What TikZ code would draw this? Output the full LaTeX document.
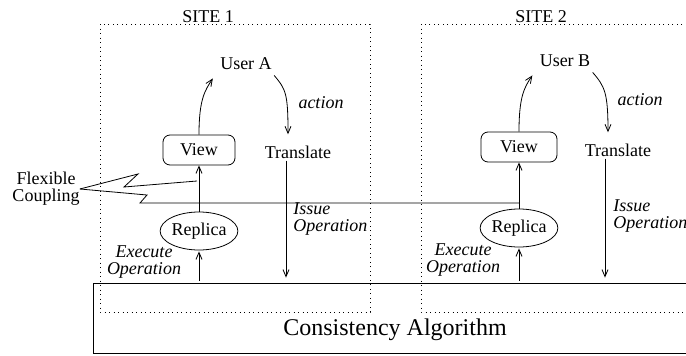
\documentclass[tikz,border=0pt]{standalone}
\usepackage{fontspec}
\setmainfont{Liberation Serif}
\usetikzlibrary{arrows.meta,shapes.geometric}

\begin{document}
\begin{tikzpicture}[x=1pt,y=-1pt,line width=0.8pt,
        >={Straight Barb[length=7pt,width=6pt]},
        every node/.style={font=\fontsize{18}{18}\selectfont,inner sep=2pt},
        lbl/.style={font=\fontsize{18}{17}\selectfont\itshape,inner sep=0pt},
        vista/.style={draw,rounded corners=7pt,minimum width=72pt,minimum height=30pt},
        replica/.style={draw,ellipse,minimum width=64pt,minimum height=38pt,inner sep=0pt},
        sitebox/.style={dash pattern=on 0.9pt off 3.6pt}]
        \useasboundingbox (0,0) rectangle (686,356);
        \clip (0,0) rectangle (686,356);
        % Sitios
        \draw[sitebox] (100,24) rectangle (370,312);
        \draw[sitebox] (421,24) rectangle (700,312);
        \node (siteA) at (208,17) {SITE 1};
        \node (siteB) at (541,17) {SITE 2};
        % Algoritmo
        \node[draw,minimum width=607pt,minimum height=70pt] (cons) at (396.5,318) {};
        \node[font=\fontsize{24}{24}\selectfont,inner sep=0pt] (consText) at (395,330) {Consistency Algorithm};
        % Sitio 1
        \node (userA) at (246,64) {User A};
        \node[vista] (viewA) at (199,150) {View};
        \node (transA) at (298,152) {Translate};
        \node[replica] (replicaA) at (199,231) {Replica};
        \node[lbl] (actionA) at (321,103) {action};
        \node[lbl,align=left,anchor=west] (issueA) at (293,219.5) {Issue\\Operation};
        \node[lbl,align=center] (execA) at (144,262.5) {Execute\\Operation};
        \draw[->] (viewA.north) .. controls +(0,-35) and +(-8,12) .. ([xshift=-5pt,yshift=-6pt]userA.south west);
        \draw[->] ([yshift=-3pt]userA.south east) .. controls +(12,14) and +(0,-40) .. ([xshift=-10pt,yshift=9pt]transA.north);
        \draw[->] ([xshift=-12pt]transA.south) -- ([xshift=-12pt,yshift=5pt]transA.south |- cons.north);
        \draw[->] ([yshift=2pt]replicaA.south |- cons.north) -- ([yshift=-1pt]replicaA.south);
        \draw[->] (replicaA.north) -- (viewA.south);
        % Sitio 2
        \node (userB) at (565,61) {User B};
        \node[vista,minimum width=76pt] (viewB) at (519,147) {View};
        \node (transB) at (618,150) {Translate};
        \node[replica,minimum width=69pt] (replicaB) at (519,228) {Replica};
        \node[lbl] (actionB) at (640,100) {action};
        \node[lbl,align=left,anchor=west] (issueB) at (613,216.5) {Issue\\Operation};
        \node[lbl,align=center] (execB) at (463,260.5) {Execute\\Operation};
        \draw[->] (viewB.north) .. controls +(0,-35) and +(-8,12) .. ([xshift=-5pt,yshift=-6pt]userB.south west);
        \draw[->] ([yshift=-3pt]userB.south east) .. controls +(12,14) and +(0,-40) .. ([xshift=-10pt,yshift=9pt]transB.north);
        \draw[->] ([xshift=-13pt]transB.south) -- ([xshift=-13pt,yshift=5pt]transB.south |- cons.north);
        \draw[->] ([yshift=2pt]replicaB.south |- cons.north) -- ([yshift=-1pt]replicaB.south);
        \draw[->] (replicaB.north) -- (viewB.south);
        % Acoplamiento flexible
        \node[align=center,inner sep=0pt,font=\fontsize{18}{17}\selectfont] (flex) at (46,189) {Flexible\\Coupling};
        \coordinate (cplA) at (197,181);
        \coordinate (cplB) at (140,203);
        \draw (flex.east) -- (138,174) -- (124,187) -- (cplA);
        \draw (flex.east) -- (147,195) -- (cplB) -- (cplB -| replicaB.north);
    \end{tikzpicture}
\end{document}
